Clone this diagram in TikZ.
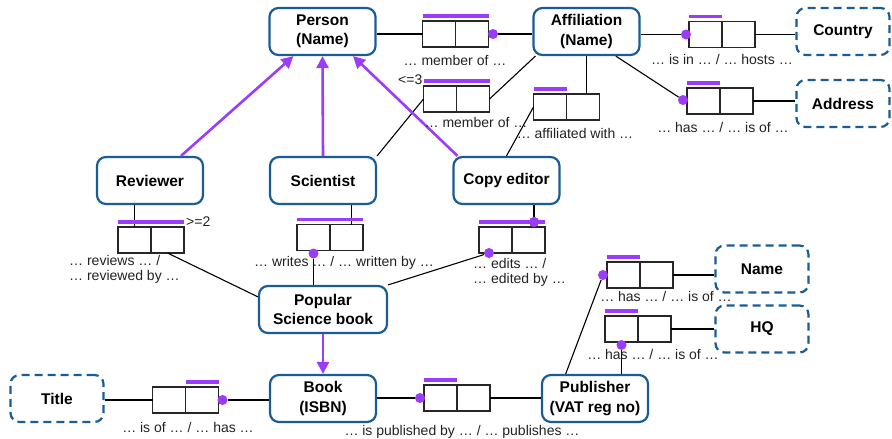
\documentclass[tikz,border=0pt]{standalone}
\usepackage{fontspec}
\setmainfont{Liberation Sans}
\usetikzlibrary{arrows.meta}
\definecolor{entblue}{HTML}{1A5C96}
\definecolor{ormpurple}{HTML}{9A3CFA}
\definecolor{labgray}{HTML}{222222}
\tikzset{
  entity/.style={draw=entblue, line width=2.2pt, rounded corners=9pt, fill=white,
    minimum width=106pt, minimum height=47pt, align=center, inner sep=0pt,
    font=\fontsize{15.5}{19.5}\selectfont\bfseries},
  valuetype/.style={entity, minimum width=93pt, dash pattern=on 8pt off 5pt},
  rolecell/.style={draw=black!85, line width=1.2pt, minimum width=33pt,
    minimum height=26pt, inner sep=0pt, outer sep=0pt},
  ubar/.style={draw=ormpurple, line width=3.2pt},
  roledot/.style={circle, fill=ormpurple, minimum size=10pt, inner sep=0pt},
  subarrow/.style={draw=ormpurple, line width=2.6pt,
    -{Triangle[length=12pt,width=12pt]}},
  conn/.style={draw=black, line width=1.1pt},
  factlabel/.style={font=\fontsize{14}{15.5}\selectfont, text=labgray,
    inner sep=0pt, align=left},
}
\begin{document}
\begin{tikzpicture}[x=1pt,y=-1pt]
\useasboundingbox (0,0) rectangle (892,439);

% entity and value types
\node[entity] (per) at (322.5,31.5) {Person\\(Name)};
\node[entity] (aff) at (586.5,31.5) {Affiliation\\(Name)};
\node[valuetype] (cty) at (843,31.5) {Country};
\node[valuetype] (adr) at (843,103.5) {Address};
\node[entity] (rev) at (150,180.5) {Reviewer};
\node[entity] (sci) at (323,180.5) {Scientist};
\node[entity] (ced) at (506.5,180.5) {Copy editor};
\node[entity, minimum width=128pt] (pop) at (323,309.5) {Popular\\Science book};
\node[valuetype] (tit) at (57,398.5) {Title};
\node[entity] (book) at (323,398.5) {Book\\(ISBN)};
\node[entity] (pub) at (595,398.5) {Publisher\\(VAT reg no)};
\node[valuetype] (nam) at (762,269) {Name};
\node[valuetype] (hq) at (762,329) {HQ};

% binary fact types: two role cells each
\node[rolecell] (m1a) at (439,34) {};   \node[rolecell] (m1b) at (472,34) {};
\node[rolecell] (m2a) at (440,99) {};   \node[rolecell] (m2b) at (473,99) {};
\node[rolecell] (afa) at (550,107) {};  \node[rolecell] (afb) at (583,107) {};
\node[rolecell] (cna) at (705.5,34.5) {}; \node[rolecell] (cnb) at (738.5,34.5) {};
\node[rolecell] (ada) at (703.5,101) {};  \node[rolecell] (adb) at (736.5,101) {};
\node[rolecell] (rva) at (134.5,240) {};  \node[rolecell] (rvb) at (167.5,240) {};
\node[rolecell] (wra) at (313.5,237.5) {}; \node[rolecell] (wrb) at (346.5,237.5) {};
\node[rolecell] (eda) at (495.5,240) {};  \node[rolecell] (edb) at (528.5,240) {};
\node[rolecell] (pna) at (623.5,275) {};  \node[rolecell] (pnb) at (656.5,275) {};
\node[rolecell] (hqa) at (621.5,329) {};  \node[rolecell] (hqb) at (654.5,329) {};
\node[rolecell] (tia) at (169,400) {};    \node[rolecell] (tib) at (202,400) {};
\node[rolecell] (pba) at (440.5,398) {};  \node[rolecell] (pbb) at (473.5,398) {};

% mandatory role dots
\node[roledot] (m1d) at ([xshift=4.5pt]m1b.east) {};
\node[roledot] (cnd) at ([xshift=-3pt]cna.west) {};
\node[roledot] (add) at ([xshift=-4pt,yshift=1pt]ada.west) {};
\node[roledot] (wrd) at ([yshift=-3pt]wra.south) {};
\node[roledot] (edt) at ([xshift=5.5pt,yshift=5pt]edb.north) {};
\node[roledot] (edd) at ([xshift=-6.5pt]eda.south) {};
\node[roledot] (pnd) at ([xshift=-4pt]pna.west) {};
\node[roledot] (hqd) at ([yshift=-3pt]hqa.south) {};
\node[roledot] (tid) at ([xshift=4pt]tib.east) {};
\node[roledot] (pbd) at ([xshift=-4pt]pba.west) {};

% role connectors
\draw[conn] (per.east |- m1a.west) -- (m1a.west);
\draw[conn] (m1d) -- (m1d -| aff.west);
\draw[conn] (m2b.east) -- ([xshift=3pt]aff.south west);
\draw[conn] (m2a.west) -- (sci.north east);
\draw[conn] (aff.south) -- (aff.south |- afb.north);
\draw[conn] (afa.west) -- (ced.north);
\draw[conn] (aff.east |- cnd) -- (cnd);
\draw[conn] (cnb.east) -- (cnb.east -| cty.west);
\draw[conn] (aff.-40) -- (add);
\draw[conn] (adb.east) -- (adb.east -| adr.west);
\draw[conn] (rev.south -| rva.north) -- (rva.north);
\draw[conn] (rvb.south) -- (pop.169);
\draw[conn] ([xshift=5pt]wrb.north) -- ([xshift=5pt]wrb.north |- sci.south);
\draw[conn] (wrd) -- (wrd |- pop.north);
\draw[conn] (ced.south -| edt) -- (edt);
\draw[conn] (edd) -- (pop.north east);
\draw[conn] (pnd) -- (pub.140);
\draw[conn] (pnb.east) -- (pnb.east -| nam.west);
\draw[conn] (hqd) -- (hqd |- pub.north);
\draw[conn] (hqb.east) -- (hqb.east -| hq.west);
\draw[conn] (tit.east |- tia.west) -- (tia.west);
\draw[conn] (tid) -- (tid -| book.west);
\draw[conn] (book.east |- pbd) -- (pbd);
\draw[conn] (pbb.east) -- (pbb.east -| pub.west);

% uniqueness constraints
\draw[ubar] ([yshift=5pt]m1a.north west) -- ([yshift=5pt]m1b.north east);
\draw[ubar] ([yshift=5pt]m2a.north west) -- ([yshift=5pt]m2b.north east);
\draw[ubar] ([yshift=5pt]afa.north west) -- ([yshift=5pt]afa.north east);
\draw[ubar] ([yshift=5pt]cna.north west) -- ([yshift=5pt]cna.north east);
\draw[ubar] ([yshift=5pt]ada.north west) -- ([yshift=5pt]ada.north east);
\draw[ubar] ([yshift=5pt]rva.north west) -- ([yshift=5pt]rvb.north east);
\draw[ubar] ([yshift=5pt]wra.north west) -- ([yshift=5pt]wrb.north east);
\draw[ubar] ([yshift=5pt]eda.north west) -- ([yshift=5pt]edb.north east);
\draw[ubar] ([yshift=5pt]pna.north west) -- ([yshift=5pt]pna.north east);
\draw[ubar] ([yshift=5pt]hqa.north west) -- ([yshift=5pt]hqa.north east);
\draw[ubar] ([yshift=5pt]tib.north west) -- ([yshift=5pt]tib.north east);
\draw[ubar] ([yshift=5pt]pba.north west) -- ([yshift=5pt]pba.north east);
\node[roledot] (edt2) at (edt) {};

% subtype links
\draw[subarrow] ([xshift=31pt]rev.north) -- ([xshift=-29pt]per.south);
\draw[subarrow] (sci.north) -- (per.south);
\draw[subarrow] ([xshift=-49pt]ced.north) -- ([xshift=30.5pt]per.south);
\draw[subarrow] (pop.south) -- (book.north);

% frequency constraints
\node[factlabel, anchor=east] (fq3) at ([xshift=-1pt,yshift=6pt]m2a.north west) {<=3};
\node[factlabel, anchor=west] (fq2) at ([xshift=2pt,yshift=5pt]rvb.north east) {>=2};

% readings
\node[factlabel] (lm1) at (455,60) {… member of …};
\node[factlabel] (lm2) at (476,122) {… member of …};
\node[factlabel] (laf) at (575,133) {… affiliated with …};
\node[factlabel] (lcn) at (722,59) {… is in … / … hosts …};
\node[factlabel] (lad) at (723,127) {… has … / … is of …};
\node[factlabel, anchor=west] (lrv) at (69,269.5) {… reviews … /\\… reviewed by …};
\node[factlabel] (lwr) at (344,263) {… writes … / … written by …};
\node[factlabel, anchor=west] (led) at (473,272.5) {… edits … /\\… edited by …};
\node[factlabel] (lpn) at (666,296) {… has … / … is of …};
\node[factlabel] (lhq) at (653,354) {… has … / … is of …};
\node[factlabel] (lti) at (188,427) {… is of … / … has …};
\node[factlabel] (lpb) at (462,432) {… is published by … / … publishes …};
\end{tikzpicture}
\end{document}
